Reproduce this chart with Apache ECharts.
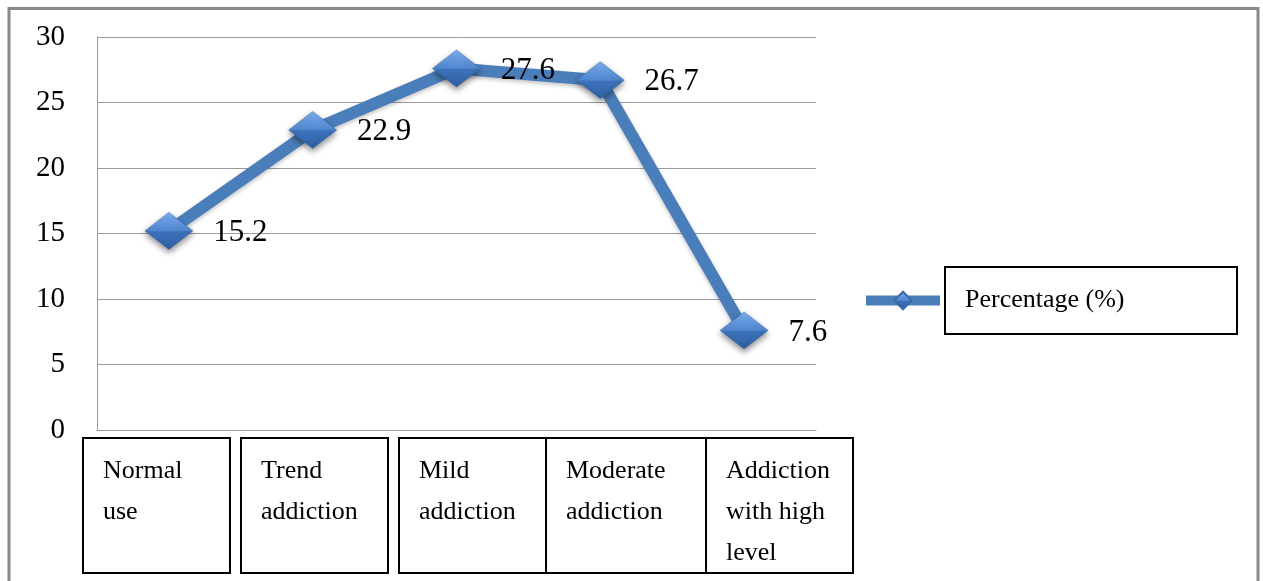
<!DOCTYPE html>
<html>
<head>
<meta charset="utf-8">
<script src="https://cdn.jsdelivr.net/npm/echarts@6/dist/echarts.min.js"></script>
<style>html,body{margin:0;padding:0;background:#fff;}#c{width:1263px;height:581px;}</style>
</head>
<body>
<div id="c"></div>
<script>
// ---- data ----
const categories = ['Normal\nuse', 'Trend\naddiction', 'Mild\naddiction', 'Moderate\naddiction', 'Addiction\nwith high\nlevel'];
const percentage = [15.2, 22.9, 27.6, 26.7, 7.6];
const seriesName = 'Percentage (%)';
const yTicks = [0, 5, 10, 15, 20, 25, 30];

// ---- layout (category label boxes) ----
const boxLeft = [83, 241, 399, 546, 706];
const boxRight = [230, 388, 546, 706, 853];
const boxTop = 438, boxBottom = 573;
const FONT = "'Liberation Serif', 'Times New Roman', serif";

const chart = echarts.init(document.getElementById('c'), null, {renderer: 'canvas'});

const symbolFill = new echarts.graphic.LinearGradient(0, 0, 0, 1, [
  {offset: 0, color: '#7eb0f0'},
  {offset: 0.5, color: '#4f86d0'},
  {offset: 0.52, color: '#3d72bb'},
  {offset: 1, color: '#2f5f9f'}
]);

const boxes = categories.map((c, i) => ({
  type: 'group',
  children: [
    {type: 'rect', shape: {x: boxLeft[i], y: boxTop, width: boxRight[i] - boxLeft[i], height: boxBottom - boxTop},
     style: {fill: 'none', stroke: '#000', lineWidth: 2}},
    {type: 'text', x: boxLeft[i] + 20, y: boxTop + 13,
     style: {text: c, font: '26px ' + FONT, fill: '#000', lineHeight: 41, align: 'left', verticalAlign: 'top'}}
  ]
}));

chart.setOption({
  animation: false,
  backgroundColor: '#fff',
  grid: {left: 97, right: 447, top: 37, bottom: 151},
  legend: {
    left: 861, top: 266, padding: 0,
    itemWidth: 74, itemHeight: 22, itemGap: 0,
    data: [seriesName],
    lineStyle: {width: 10, color: '#4a7ebb'},
    textStyle: {
      fontFamily: FONT, fontSize: 26, color: '#000',
      width: 272, height: 67, lineHeight: 67,
      borderColor: '#000', borderWidth: 2, padding: [0, 0, 0, 20]
    }
  },
  xAxis: {
    type: 'category',
    data: categories,
    boundaryGap: true,
    axisLine: {show: true, lineStyle: {color: '#9a9a9a', width: 1}},
    axisTick: {show: false},
    axisLabel: {show: false}
  },
  yAxis: {
    type: 'value',
    min: yTicks[0], max: yTicks[yTicks.length - 1], interval: 5,
    axisLine: {show: true, lineStyle: {color: '#9a9a9a', width: 1}},
    axisTick: {show: false},
    splitLine: {lineStyle: {color: '#9a9a9a', width: 1}},
    axisLabel: {margin: 32, fontFamily: FONT, fontSize: 29, color: '#000'}
  },
  series: [{
    name: seriesName,
    type: 'line',
    data: percentage,
    symbol: 'diamond',
    symbolSize: [48, 37],
    lineStyle: {color: '#4a7ebb', width: 12, shadowColor: 'rgba(0,0,0,0.25)', shadowBlur: 4, shadowOffsetY: 2},
    itemStyle: {color: symbolFill, borderColor: '#3a6aa8', borderWidth: 0.5,
                shadowColor: 'rgba(0,0,0,0.45)', shadowBlur: 6, shadowOffsetY: 3},
    label: {show: true, position: 'right', distance: 20, offset: [0, 2],
            fontFamily: FONT, fontSize: 31, color: '#000'},
    z: 3
  }],
  graphic: [
    {type: 'rect', shape: {x: 9, y: 8.5, width: 1249, height: 640},
     style: {fill: 'none', stroke: '#8a8a8a', lineWidth: 3}, silent: true},
    ...boxes
  ]
});
</script>
</body>
</html>
